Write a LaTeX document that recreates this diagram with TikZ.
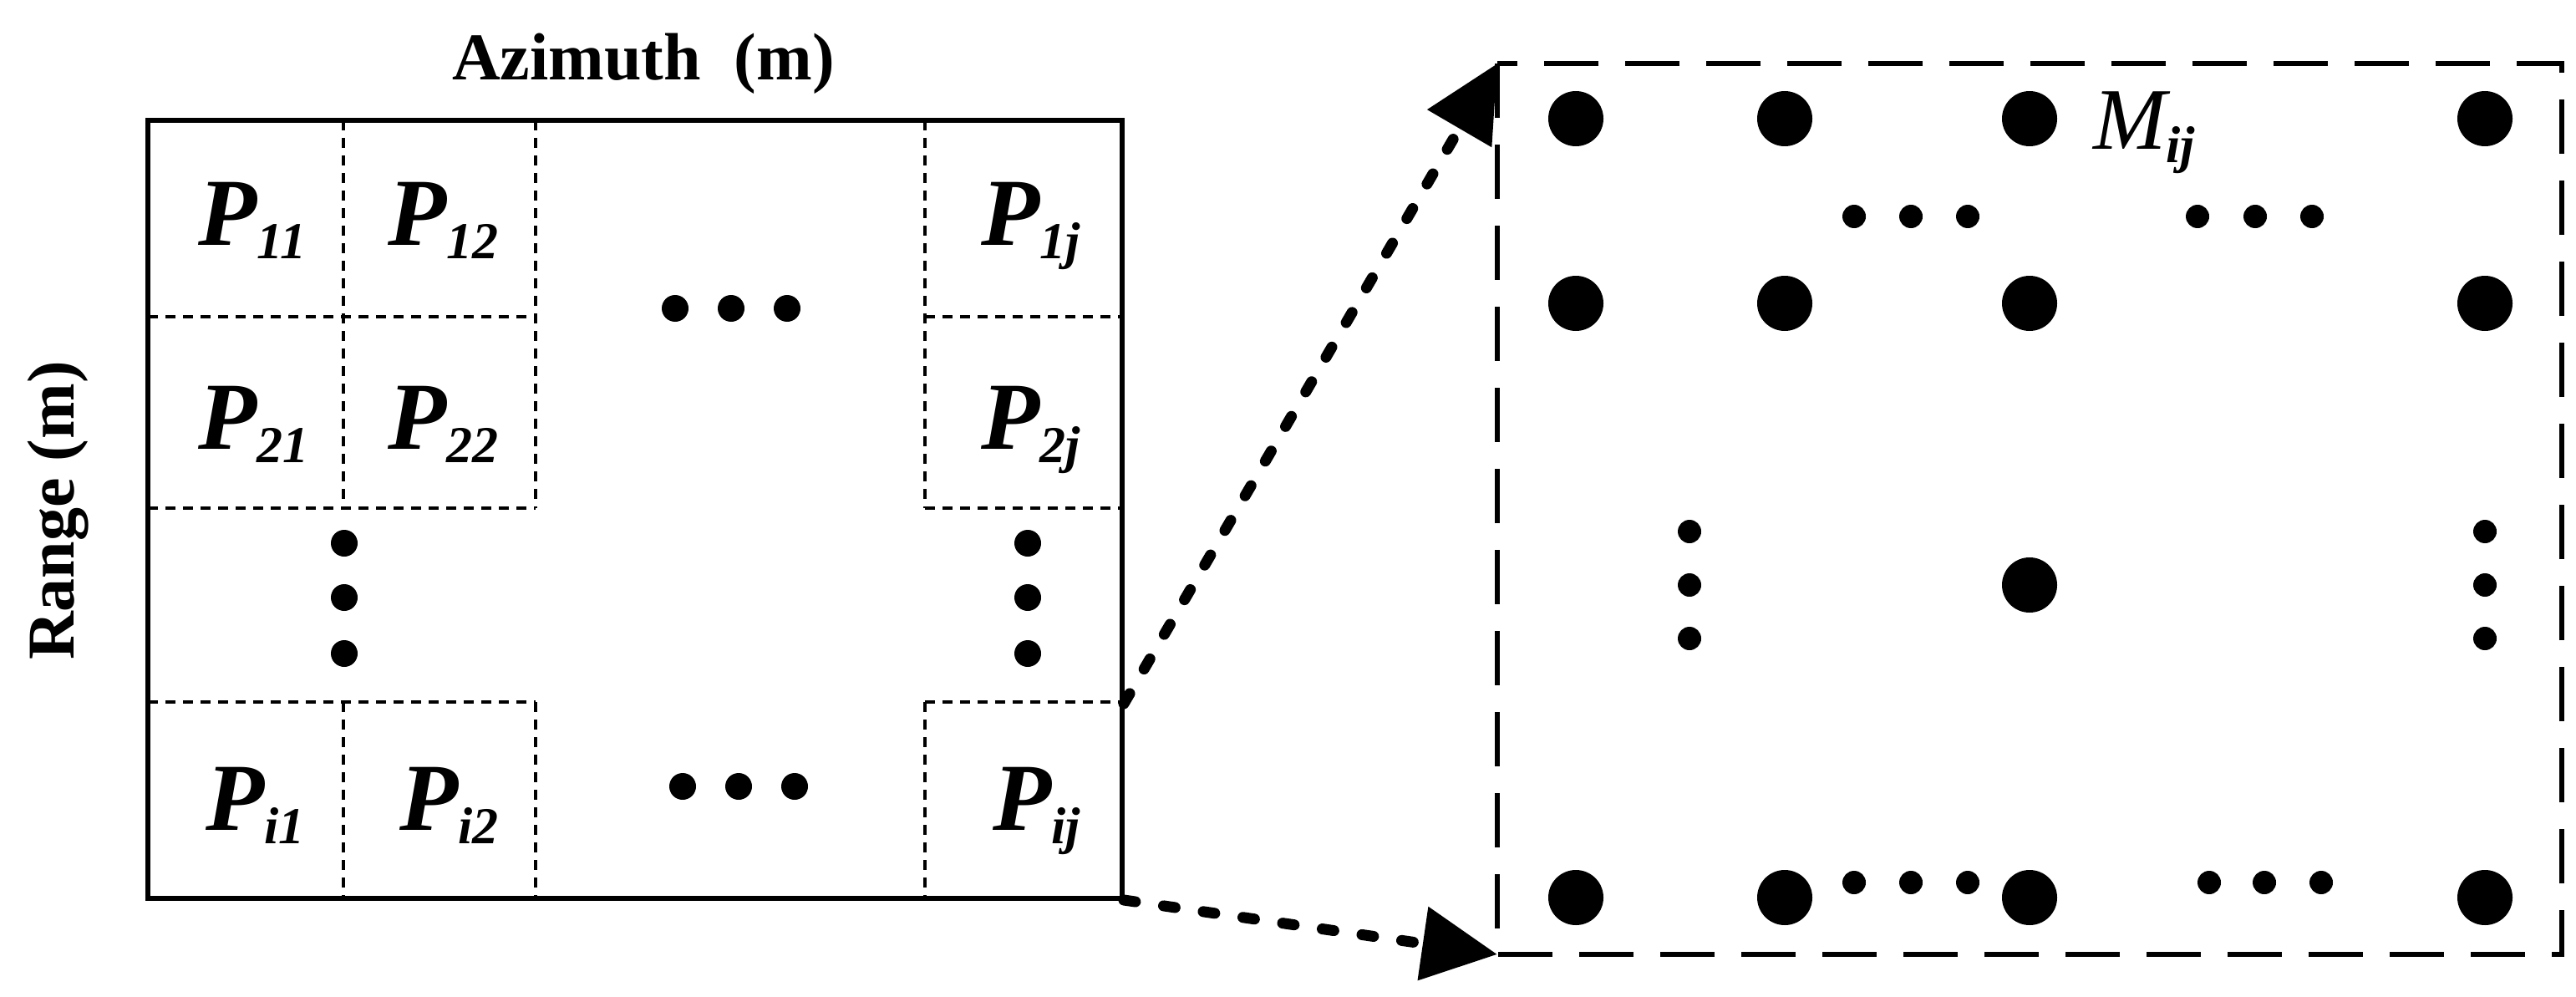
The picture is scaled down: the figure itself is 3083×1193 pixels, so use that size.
\documentclass[tikz,border=0pt]{standalone}
\usepackage{fontspec}
\setmainfont{Liberation Serif}
\usetikzlibrary{arrows.meta}
\tikzset{
  lbl/.style={anchor=base west,inner sep=0pt,font=\fontsize{115}{115}\selectfont\bfseries\itshape},
  axis/.style={inner sep=0pt,font=\fontsize{80}{80}\selectfont\bfseries},
  grid/.style={line width=4pt,dash pattern=on 12pt off 9pt},
  bigdot/.style={fill=black},
  zoomarrow/.style={line width=13pt,line cap=round,dash pattern=on 14pt off 34pt,-{Triangle[length=90pt,width=86pt]}},
  frame/.style={line width=6pt,dash pattern=on 65pt off 32pt}
}
\newcommand{\sbx}[1]{\raisebox{-16pt}{\fontsize{62}{62}\selectfont #1}}
\begin{document}
\begin{tikzpicture}[x=1pt,y=-1pt]
\useasboundingbox (0,0) rectangle (3083,1193);
% left grid
\draw[line width=6pt] (177,144) rectangle (1343,1075);
\foreach \x in {411,641,1107}{
  \draw[grid] (\x,144) -- (\x,608);
  \draw[grid] (\x,840) -- (\x,1075);}
\foreach \y in {379,608,840}{
  \draw[grid] (177,\y) -- (641,\y);
  \draw[grid] (1107,\y) -- (1343,\y);}
\foreach \x in {808,875,942} \fill (\x,369) circle (16);
\foreach \x in {817,884,951} \fill (\x,941) circle (16);
\foreach \y in {650,715,782} {\fill (412,\y) circle (16); \fill (1230,\y) circle (16);}
\node[lbl] (p11) at (237,293) {P\sbx{11}};
\node[lbl] (p12) at (464,293) {P\sbx{12}};
\node[lbl] (p1j) at (1174,293) {P\sbx{1j}};
\node[lbl] (p21) at (237,537) {P\sbx{21}};
\node[lbl] (p22) at (464,537) {P\sbx{22}};
\node[lbl] (p2j) at (1174,537) {P\sbx{2j}};
\node[lbl] (pi1) at (246,993) {P\sbx{i1}};
\node[lbl] (pi2) at (478,993) {P\sbx{i2}};
\node[lbl] (pij) at (1188,993) {P\sbx{ij}};
\node[axis] (az) at (770,76) {Azimuth\ \ (m)};
\node[axis,rotate=90] (rg) at (70,611) {Range (m)};
% right box
\draw[frame] (1792,76) rectangle (3066,1142);
\coordinate (boxtl) at (1792,76);
\coordinate (boxbl) at (1792,1142);
\coordinate (src1) at (1345,842);
\coordinate (src2) at (1345,1077);
\foreach \x in {1886,2136,2429,2974}{
  \fill (\x,142) circle (33); \fill (\x,363) circle (33); \fill (\x,1074) circle (33);}
\fill (2429,700) circle (33);
\foreach \x in {2219,2287,2355,2630,2699,2767} \fill (\x,259) circle (14);
\foreach \x in {2219,2287,2355,2644,2710,2778} \fill (\x,1056) circle (14);
\foreach \y in {636,700,764} {\fill (2022,\y) circle (14); \fill (2974,\y) circle (14);}
\node[lbl,font=\fontsize{105}{105}\selectfont\itshape] (mij) at (2505,179) {M\raisebox{-16pt}{\fontsize{62}{62}\selectfont\bfseries ij}};
% arrows
\draw[zoomarrow] (src1) -- (boxtl);
\draw[zoomarrow] (src2) -- (boxbl);
\end{tikzpicture}
\end{document}
